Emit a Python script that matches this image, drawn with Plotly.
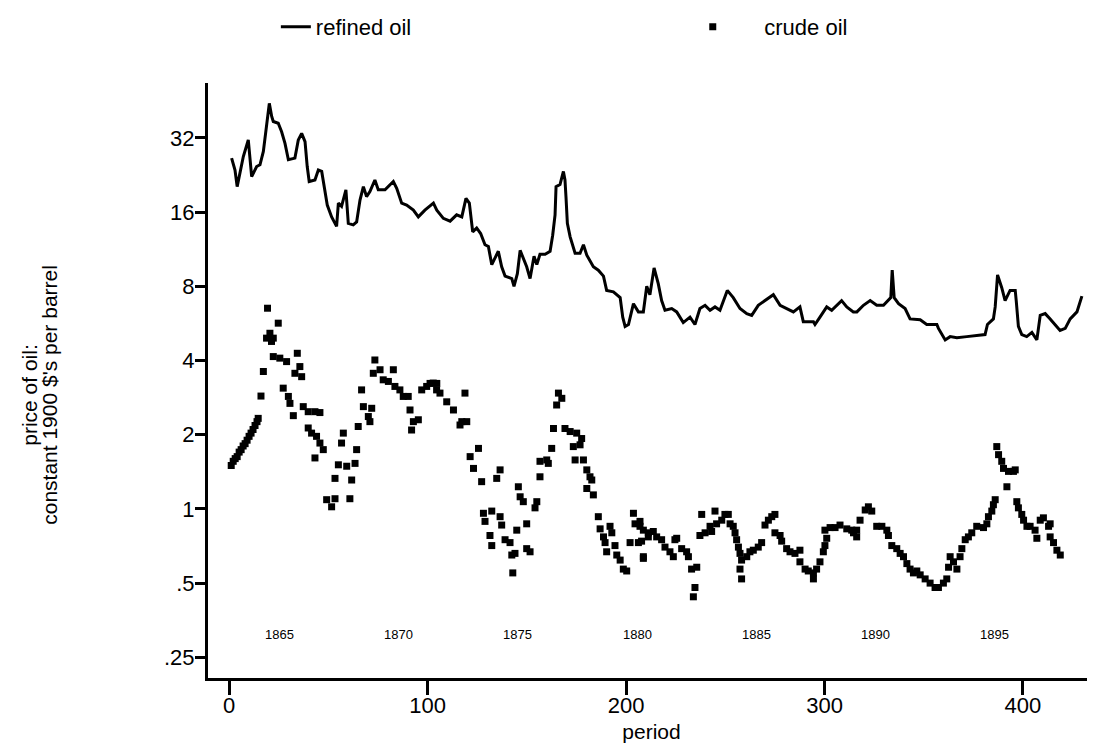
import math
import plotly.graph_objects as go

# ---------------- data ----------------
refined_period = [1.2, 2.9, 4.0, 5.4, 7.1, 9.6, 11.3, 13.8, 15.5, 17.2, 18.8, 20.2, 21.4, 22.2, 24.7,
                  26.4, 28.1, 29.8, 33.1, 34.8, 36.5, 38.2, 39.3, 40.3, 43.2, 44.9, 46.6, 48.2, 49.4,
                  51.6, 54.1, 55.0, 56.6, 58.8, 60.0, 62.5, 64.2, 65.9, 67.6, 69.2, 70.9, 73.4, 75.1,
                  78.5, 80.2, 82.7, 84.4, 86.9, 89.4, 92.8, 95.3, 97.0, 98.6, 102.9, 104.6, 107.9,
                  111.3, 114.6, 117.2, 119.3, 121.0, 122.7, 124.7, 126.7, 128.9, 130.6, 132.3, 135.6,
                  137.3, 139.0, 142.4, 143.5, 145.2, 146.6, 148.2, 149.9, 151.6, 153.6, 155.0, 156.6,
                  159.2, 161.7, 163.0, 164.2, 164.7, 166.7, 168.4, 169.2, 169.7, 170.4, 171.8, 173.1,
                  174.3, 176.8, 178.5, 180.2, 181.8, 183.5, 186.0, 188.6, 190.2, 193.6, 197.0, 198.3,
                  199.5, 201.2, 203.7, 206.2, 208.7, 210.4, 212.0, 214.1, 216.2, 217.9, 219.6, 223.0,
                  225.5, 228.8, 232.2, 234.7, 237.2, 239.8, 242.3, 244.8, 247.3, 251.0, 254.0, 257.4,
                  260.8, 263.3, 266.6, 270.0, 274.2, 277.6, 280.9, 284.3, 287.6, 289.3, 294.4, 295.2,
                  297.7, 301.1, 303.6, 308.6, 311.2, 314.5, 316.3, 319.6, 323.0, 326.3, 329.7, 332.2,
                  333.4, 334.1, 335.1, 337.3, 340.6, 343.1, 348.2, 351.5, 356.6, 357.4, 360.8, 363.3,
                  366.7, 371.7, 376.7, 380.9, 382.1, 385.1, 386.0, 387.2, 389.3, 391.0, 393.5, 396.1,
                  396.6, 397.7, 399.4, 401.9, 404.5, 407.0, 408.7, 411.2, 413.7, 416.2, 418.7, 421.3,
                  423.8, 427.2, 429.7]
refined_price = [26.5, 23.7, 20.3, 23.0, 26.9, 31.4, 22.3, 24.5, 24.9, 28.2, 36.7, 44.2, 39.1, 37.3, 36.7,
                 33.9, 30.4, 26.1, 26.5, 31.4, 33.4, 30.9, 24.5, 21.3, 21.6, 23.7, 23.4, 19.7, 17.1,
                 15.3, 14.0, 17.4, 16.9, 19.7, 14.4, 14.2, 14.6, 17.9, 20.3, 18.5, 19.4, 21.6, 19.7,
                 19.7, 20.3, 21.3, 20.0, 17.4, 17.1, 16.3, 15.3, 15.8, 16.3, 17.4, 16.3, 15.1,
                 14.7, 15.6, 15.3, 18.2, 17.4, 13.3, 13.8, 13.1, 11.8, 11.6, 9.8, 11.1,
                 9.6, 8.8, 8.6, 8.0, 9.0, 11.2, 10.4, 9.6, 8.6, 10.6, 9.8, 10.8,
                 10.8, 11.1, 12.9, 15.6, 20.3, 20.7, 23.4, 21.6, 18.5, 14.4, 12.7, 11.6,
                 10.9, 10.9, 11.8, 10.7, 10.1, 9.6, 9.3, 8.8, 7.7, 7.6, 7.2, 6.0,
                 5.5, 5.6, 6.8, 6.3, 6.3, 8.0, 7.4, 9.5, 8.2, 7.0, 6.4, 6.5,
                 6.3, 5.7, 6.0, 5.6, 6.5, 6.7, 6.4, 6.6, 6.4, 7.7, 7.2, 6.5,
                 6.2, 6.1, 6.7, 7.0, 7.4, 6.7, 6.5, 6.3, 6.6, 5.75, 5.75, 5.6,
                 6.0, 6.6, 6.4, 7.0, 6.6, 6.3, 6.3, 6.7, 7.0, 6.7, 6.7, 7.0,
                 7.2, 9.3, 7.2, 6.8, 6.5, 5.9, 5.85, 5.6, 5.6, 5.4, 4.85, 5.0,
                 4.95, 5.0, 5.05, 5.1, 5.6, 5.9, 6.6, 8.9, 7.9, 7.0, 7.7, 7.7,
                 7.0, 5.5, 5.1, 5.0, 5.2, 4.85, 6.1, 6.2, 5.9, 5.6, 5.3, 5.4,
                 5.9, 6.3, 7.3]

crude_period = [1, 2, 3, 4, 5, 6, 7, 8, 9, 10, 11, 12, 13, 14, 14.6, 16, 17.2, 18.8, 19.3, 20.5,
                21.3, 22.2, 22.2, 24.7, 25.5, 27.2, 28.9, 29.8, 30.6, 32.3, 33.1, 34.3, 35.6, 36.5,
                37.3, 39.8, 39.8, 41.5, 43.2, 43.2, 44.0, 45.7, 45.7, 47.4, 49.1, 51.6, 53.3, 53.3,
                55.0, 56.6, 57.5, 59.2, 60.8, 61.7, 63.4, 64.2, 65.0, 66.7, 67.6, 70.1, 70.9, 71.8,
                72.6, 73.4, 76.0, 77.6, 80.2, 82.7, 83.5, 86.0, 87.7, 90.2, 91.1, 91.9, 92.8, 95.3,
                97.0, 99.5, 101.2, 102.8, 104.5, 104.6, 106.2, 109.6, 113.0, 116.3, 117.2, 118.8,
                119.7, 121.4, 123.1, 125.6, 127.2, 128.1, 128.9, 131.4, 132.3, 132.3, 134.8, 136.5,
                136.5, 137.3, 139.0, 141.5, 142.4, 142.9, 144.0, 144.9, 145.7, 146.6, 148.2, 149.9,
                149.9, 151.6, 154.1, 155.0, 156.6, 156.6, 160.0, 160.8, 162.5, 163.4, 165.0, 165.9,
                167.6, 169.2, 171.8, 173.4, 174.3, 175.1, 176.8, 177.6, 178.5, 180.2, 180.2, 181.8,
                182.7, 183.5, 186.0, 186.9, 188.6, 189.4, 190.2, 191.9, 192.8, 194.4, 195.3, 197.0,
                198.6, 200.3, 202.0, 203.7, 204.5, 206.2, 207.0, 207.0, 207.8, 208.7, 208.7, 208.7,
                211.2, 211.2, 213.7, 215.4, 217.9, 219.6, 222.1, 223.8, 224.6, 225.5, 228.0, 230.5,
                231.4, 233.0, 233.9, 234.7, 235.6, 237.2, 238.1, 239.8, 242.3, 243.1, 244.8, 245.6,
                248.2, 249.8, 251.5, 252.4, 254.0, 254.9, 255.7, 256.6, 257.4, 257.4, 258.2, 258.2,
                260.8, 262.4, 264.1, 266.6, 268.3, 270.0, 271.7, 273.4, 275.0, 275.0, 277.6, 278.4,
                280.9, 282.6, 285.1, 287.6, 287.6, 290.2, 291.8, 294.4, 294.4, 296.0, 297.7, 299.4,
                300.2, 300.2, 301.1, 302.8, 305.3, 307.8, 311.2, 313.7, 314.6, 316.2, 316.2, 317.9,
                320.5, 322.1, 323.8, 326.3, 328.9, 331.4, 332.2, 333.9, 336.4, 338.1, 339.8, 341.5,
                343.1, 344.8, 346.5, 348.2, 350.7, 353.2, 355.7, 357.4, 359.9, 361.6, 362.5, 363.3,
                365.0, 366.7, 368.3, 369.2, 370.9, 372.5, 374.2, 376.7, 380.1, 381.8, 382.6, 384.3,
                385.1, 386.0, 386.8, 387.7, 389.3, 390.2, 391.9, 392.7, 395.2, 396.1, 396.9, 397.7,
                399.4, 400.3, 402.0, 403.6, 406.1, 407.0, 408.7, 410.3, 412.9, 413.7, 413.7, 415.4,
                417.1, 418.8]
crude_price = [1.50, 1.56, 1.60, 1.63, 1.70, 1.74, 1.80, 1.84, 1.90, 1.97, 2.03, 2.10, 2.18, 2.26, 2.33,
               2.87, 3.61, 4.93, 6.52, 5.16, 4.78, 4.93, 4.15, 5.67, 4.09, 3.09, 3.96, 2.86, 2.68,
               2.39, 3.55, 4.28, 3.78, 3.44, 2.60, 2.48, 2.13, 2.03, 2.48, 1.61, 1.97, 2.46, 1.85,
               1.74, 1.09, 1.02, 1.10, 1.33, 1.51, 1.85, 2.03, 1.49, 1.10, 1.31, 1.53, 1.74, 2.16,
               3.04, 2.60, 2.37, 2.26, 2.56, 3.55, 4.02, 3.67, 3.34, 3.29, 3.67, 3.14, 3.04, 2.86,
               2.86, 2.52, 2.09, 2.26, 2.30, 3.04, 3.14, 3.23, 3.24, 3.04, 3.23, 2.95, 2.72, 2.52,
               2.19, 2.26, 2.95, 2.26, 1.63, 1.46, 1.76, 1.29, 0.96, 0.89, 0.78, 0.98, 0.71, 1.33,
               1.44, 0.93, 0.86, 0.75, 0.73, 0.65, 0.55, 0.66, 0.82, 1.23, 1.12, 1.07, 0.87, 0.69,
               0.67, 1.01, 1.07, 1.35, 1.56, 1.58, 1.53, 1.76, 2.12, 2.64, 2.95, 2.81, 2.12, 2.06,
               1.79, 1.58, 2.03, 1.82, 1.93, 1.58, 1.44, 1.21, 1.35, 1.31, 1.14, 0.93, 0.83, 0.77,
               0.73, 0.67, 0.85, 0.80, 0.71, 0.65, 0.62, 0.57, 0.56, 0.73, 0.96, 0.87, 0.73, 0.85,
               0.89, 0.74, 0.64, 0.82, 0.63, 0.77, 0.80, 0.81, 0.77, 0.75, 0.70, 0.67, 0.64, 0.75,
               0.76, 0.69, 0.67, 0.64, 0.57, 0.44, 0.48, 0.58, 0.78, 0.95, 0.80, 0.85, 0.81, 0.98,
               0.87, 0.90, 0.95, 0.95, 0.87, 0.85, 0.80, 0.75, 0.70, 0.66, 0.57, 0.62, 0.52, 0.64,
               0.67, 0.68, 0.70, 0.73, 0.86, 0.90, 0.93, 0.95, 0.80, 0.78, 0.74, 0.69, 0.67, 0.66,
               0.68, 0.61, 0.57, 0.56, 0.55, 0.52, 0.57, 0.61, 0.67, 0.71, 0.82, 0.76, 0.84, 0.84,
               0.86, 0.83, 0.82, 0.80, 0.82, 0.77, 0.90, 0.99, 1.02, 0.98, 0.85, 0.85, 0.82, 0.78,
               0.71, 0.69, 0.66, 0.64, 0.60, 0.57, 0.55, 0.56, 0.54, 0.52, 0.50, 0.48, 0.48, 0.50,
               0.52, 0.58, 0.64, 0.61, 0.57, 0.64, 0.69, 0.75, 0.77, 0.80, 0.85, 0.84, 0.87, 0.93,
               0.98, 1.04, 1.09, 1.79, 1.66, 1.56, 1.46, 1.23, 1.42, 1.42, 1.44, 1.07, 1.01, 0.95,
               0.90, 0.85, 0.85, 0.82, 0.76, 0.90, 0.92, 0.85, 0.87, 0.77, 0.73, 0.68, 0.65]

year_label_period = [25.5, 85.5, 145.5, 205.5, 265.5, 325.5, 385.5]
year_label_text = ["1865", "1870", "1875", "1880", "1885", "1890", "1895"]
year_label_price = 0.31

y_tick_vals = [0.25, 0.5, 1, 2, 4, 8, 16, 32]
y_tick_text = [".25", ".5", "1", "2", "4", "8", "16", "32"]
x_tick_vals = [0, 100, 200, 300, 400]

y_title_lines = ["price of oil:", "constant 1900 $'s per barrel"]

# ---------------- figure ----------------
FONT = "Liberation Sans, Arial, sans-serif"

fig = go.Figure()
fig.add_trace(go.Scatter(
    x=refined_period, y=refined_price, mode="lines", name="refined oil",
    line=dict(color="black", width=3), legend="legend",
))
fig.add_trace(go.Scatter(
    x=crude_period, y=crude_price, mode="markers", name="crude oil",
    marker=dict(symbol="square", size=7, color="black", line=dict(width=0)),
    legend="legend2",
))

for px, txt in zip(year_label_period, year_label_text):
    fig.add_annotation(x=px, y=math.log10(year_label_price), text=txt,
                       showarrow=False, font=dict(family=FONT, size=13, color="black"))

# two-line rotated y-axis title (tight line spacing as in the reference)
for i, line in enumerate(y_title_lines):
    fig.add_annotation(xref="paper", yref="paper", x=0, y=0.476, xanchor="center",
                       yanchor="middle", xshift=-178 + 20 * i, text=line, textangle=-90,
                       showarrow=False, font=dict(family=FONT, size=21, color="black"))

legend_common = dict(orientation="h", yanchor="middle", y=1.094, xanchor="left",
                     font=dict(family=FONT, size=22, color="black"),
                     bgcolor="rgba(0,0,0,0)", borderwidth=0)

# the page adds an 8px body margin, so the figure is sized/offset to compensate
fig.update_layout(
    width=1087, height=737,
    margin=dict(l=200, r=0, t=75, b=67, autoexpand=False),
    paper_bgcolor="white", plot_bgcolor="white",
    font=dict(family=FONT, size=22, color="black"),
    showlegend=True,
    legend=dict(x=0.0765, itemwidth=30, **legend_common),
    legend2=dict(x=0.511, itemwidth=93, **legend_common),
)
fig.update_xaxes(
    range=[-10.7, 436.3], tickvals=x_tick_vals, ticks="outside", ticklen=14, tickwidth=3,
    tickcolor="black", showline=True, linecolor="black", linewidth=3, showgrid=False,
    zeroline=False, automargin=False, ticklabelstandoff=-8,
    title=dict(text="period", font=dict(family=FONT, size=21), standoff=7),
    tickfont=dict(family=FONT, size=22),
)
fig.update_yaxes(
    type="log", range=[-0.686, 1.728], tickvals=y_tick_vals, ticktext=y_tick_text,
    ticks="outside", ticklen=10, tickwidth=3, tickcolor="black", showline=True,
    linecolor="black", linewidth=3, showgrid=False, zeroline=False, automargin=False,
    ticklabelstandoff=-4,
    tickfont=dict(family=FONT, size=22),
)

fig.write_html("out.html")
